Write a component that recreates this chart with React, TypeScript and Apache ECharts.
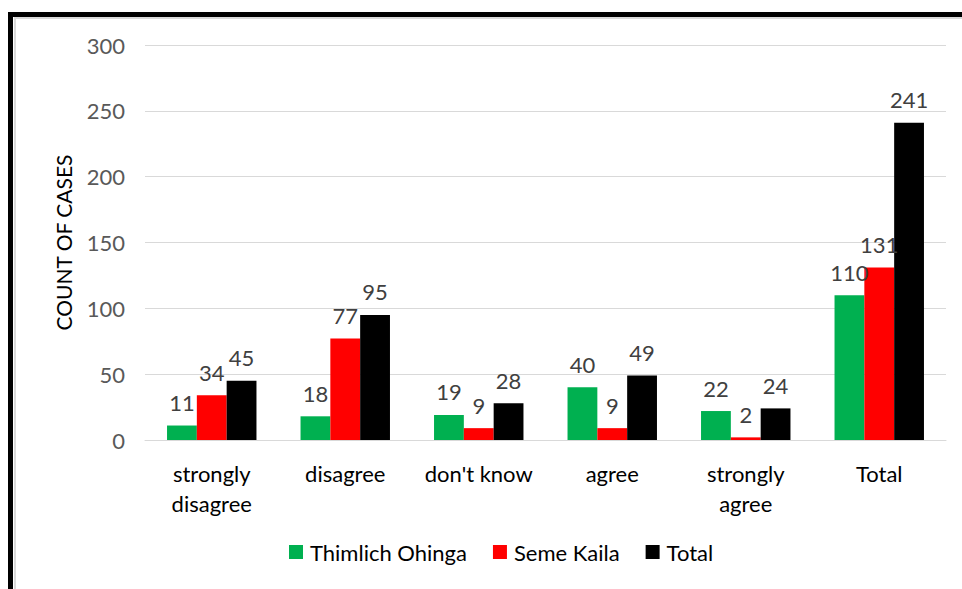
import React, { useEffect, useRef } from "react";
import * as echarts from "echarts";

const categories = ["strongly\ndisagree", "disagree", "don't know", "agree", "strongly\nagree", "Total"];
const thimlich = [11, 18, 19, 40, 22, 110];
const seme = [34, 77, 9, 9, 2, 131];
const total = [45, 95, 28, 49, 24, 241];
const yTicks = { min: 0, max: 300, interval: 50 };

const FONT = "Lato";
const FS = 22;

export default function App() {
  const ref = useRef<HTMLDivElement>(null);
  useEffect(() => {
    document.body.style.margin = "0";
    const chart = echarts.init(ref.current!, null, { renderer: "svg" });
    const label = {
      show: true,
      position: "top" as const,
      distance: 12,
      color: "#404040",
      fontSize: FS,
      fontFamily: FONT,
    };
    chart.setOption({
      animation: false,
      backgroundColor: "#fff",
      grid: { left: 145, right: 16, top: 45, bottom: 149 },
      legend: {
        bottom: 21,
        left: 284,
        itemWidth: 14,
        itemHeight: 14,
        itemGap: 26,
        icon: "rect",
        textStyle: { fontSize: FS, color: "#000", fontFamily: FONT, padding: [0, 0, 0, 2] },
      },
      xAxis: {
        type: "category",
        data: categories,
        axisLine: { lineStyle: { color: "#d9d9d9", width: 1 } },
        axisTick: { show: false },
        axisLabel: { fontSize: FS, color: "#000", fontFamily: FONT, margin: 18, lineHeight: 30, interval: 0 },
      },
      yAxis: {
        type: "value",
        ...yTicks,
        name: "COUNT OF CASES",
        nameLocation: "middle",
        nameGap: 71,
        nameTextStyle: { fontSize: FS - 1, color: "#000", fontFamily: FONT },
        axisLine: { show: false },
        axisTick: { show: false },
        splitLine: { lineStyle: { color: "#d9d9d9", width: 1 } },
        axisLabel: { fontSize: FS, color: "#595959", fontFamily: FONT, margin: 20 },
      },
      series: [
        { name: "Thimlich Ohinga", type: "bar", data: thimlich, itemStyle: { color: "#00b050" }, barGap: "0%", barCategoryGap: "33%", label },
        { name: "Seme Kaila", type: "bar", data: seme, itemStyle: { color: "#ff0000" }, label },
        { name: "Total", type: "bar", data: total, itemStyle: { color: "#000000" }, label },
      ],
      graphic: [
        { type: "rect", shape: { x: 15, y: 18, width: 2000, height: 2000 }, style: { fill: "none", stroke: "#d9d9d9", lineWidth: 2 }, silent: true },
        { type: "rect", shape: { x: 10.5, y: 14.5, width: 2000, height: 2000 }, style: { fill: "none", stroke: "#000", lineWidth: 5 }, silent: true },
      ],
    });
    return () => chart.dispose();
  }, []);
  return <div ref={ref} style={{ width: 962, height: 589 }} />;
}
